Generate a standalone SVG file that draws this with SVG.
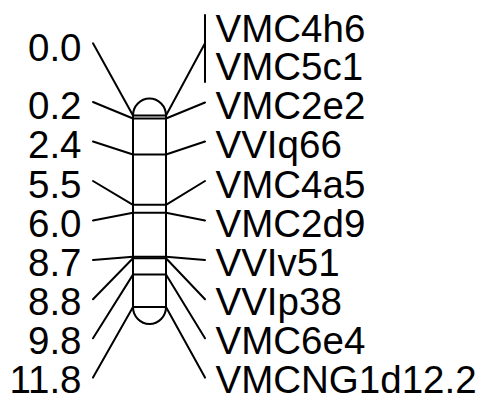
<svg xmlns="http://www.w3.org/2000/svg" width="485" height="400" viewBox="0 0 485 400">
<style>
.t{font-family:"Liberation Sans",Arial,sans-serif;font-size:38.5px;fill:#000}
.l{text-anchor:end}
.c{stroke:#000;stroke-width:2;fill:none;stroke-linecap:round}
.b{stroke:#000;stroke-width:2;fill:none}
</style>
<rect width="485" height="400" fill="#fff"/>
<g id="chromosome">
<path class="b" d="M133,115.5 A16.5,17 0 0 1 166,115.5 L166,307 A16.5,17 0 0 1 133,307 Z"/>
</g>
<g id="m0_0">
<line class="b" x1="133" y1="115.5" x2="166" y2="115.5"/>
<text class="t l" x="81.5" y="61">0.0</text>
<text class="t" x="215.5" y="41.5">VMC4h6</text>
<text class="t" x="215.5" y="80.3">VMC5c1</text>
</g>
<g id="m0_2">
<line class="b" x1="133" y1="118.5" x2="166" y2="118.5"/>
<text class="t l" x="81.5" y="119">0.2</text>
<text class="t" x="215.5" y="119">VMC2e2</text>
</g>
<g id="m2_4">
<line class="b" x1="133" y1="154.5" x2="166" y2="154.5"/>
<text class="t l" x="81.5" y="158.3">2.4</text>
<text class="t" x="215.5" y="158.3">VVIq66</text>
</g>
<g id="m5_5">
<line class="b" x1="133" y1="204.8" x2="166" y2="204.8"/>
<text class="t l" x="81.5" y="197.6">5.5</text>
<text class="t" x="215.5" y="197.6">VMC4a5</text>
</g>
<g id="m6_0">
<line class="b" x1="133" y1="212.8" x2="166" y2="212.8"/>
<text class="t l" x="81.5" y="236.5">6.0</text>
<text class="t" x="215.5" y="236.5">VMC2d9</text>
</g>
<g id="m8_7">
<line class="b" x1="133" y1="256.7" x2="166" y2="256.7"/>
<text class="t l" x="81.5" y="275.5">8.7</text>
<text class="t" x="215.5" y="275.5">VVIv51</text>
</g>
<g id="m8_8">
<line class="b" x1="133" y1="258.3" x2="166" y2="258.3"/>
<text class="t l" x="81.5" y="314.5">8.8</text>
<text class="t" x="215.5" y="314.5">VVIp38</text>
</g>
<g id="m9_8">
<line class="b" x1="133" y1="274.6" x2="166" y2="274.6"/>
<text class="t l" x="81.5" y="353.6">9.8</text>
<text class="t" x="215.5" y="353.6">VMC6e4</text>
</g>
<g id="m11_8">
<line class="b" x1="133" y1="307" x2="166" y2="307"/>
<text class="t l" x="81.5" y="393">11.8</text>
<text class="t" x="215.5" y="393">VMCNG1d12.2</text>
</g>
<g id="connectors">
<line class="b" x1="205" y1="14.3" x2="205" y2="82.7"/>
<polyline class="c" points="93,43.3 133,115.5"/>
<polyline class="c" points="166,115.5 205,43.3"/>
<polyline class="c" points="93,102 133,118.5"/>
<polyline class="c" points="166,118.5 205,102.5"/>
<polyline class="c" points="93,141.5 133,154.5"/>
<polyline class="c" points="166,154.5 205,141.5"/>
<polyline class="c" points="93,181 133,204.8"/>
<polyline class="c" points="166,204.8 205,181"/>
<polyline class="c" points="93,220.5 133,212.8"/>
<polyline class="c" points="166,212.8 205,220.5"/>
<polyline class="c" points="93,260 133,256.7"/>
<polyline class="c" points="166,256.7 205,260"/>
<polyline class="c" points="93,299.2 133,258.3"/>
<polyline class="c" points="166,258.3 205,299.2"/>
<polyline class="c" points="93,338.3 133,274.6"/>
<polyline class="c" points="166,274.6 205,338.3"/>
<polyline class="c" points="93,377.6 133,307"/>
<polyline class="c" points="166,307 205,377.6"/>
</g>
</svg>
